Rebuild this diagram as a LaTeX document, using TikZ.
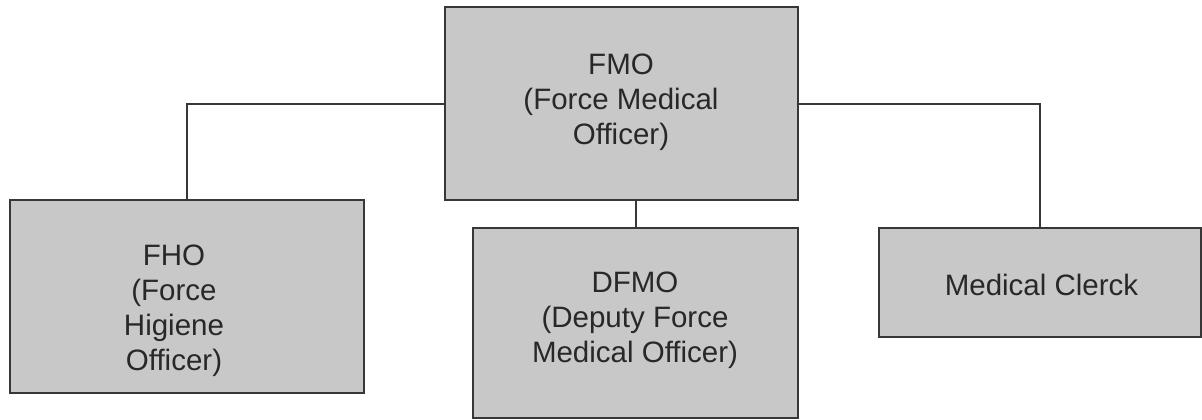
\documentclass[tikz,border=0pt]{standalone}
\usepackage{fontspec}
\setmainfont{Liberation Sans}
\definecolor{boxfill}{RGB}{200,200,200}
\definecolor{edge}{RGB}{55,55,55}
\definecolor{txt}{RGB}{40,40,40}
\begin{document}
\begin{tikzpicture}[x=1pt,y=-1pt,
  orgbox/.style={draw=edge,fill=boxfill,line width=2pt,rectangle,inner sep=0pt,outer sep=0pt},
  label/.style={inner sep=0pt,outer sep=0pt,align=center,text=txt,font=\fontsize{29.5}{35}\selectfont},
  conn/.style={draw=edge,line width=2pt}]
\useasboundingbox[fill=white] (0,0) rectangle (1202,420);
\node[orgbox,minimum width=353pt,minimum height=193pt] (fmo) at (621.5,103.5) {};
\node[orgbox,minimum width=354pt,minimum height=193pt] (fho) at (187,296.5) {};
\node[orgbox,minimum width=325pt,minimum height=190pt] (dfmo) at (635.5,323) {};
\node[orgbox,minimum width=322pt,minimum height=109pt] (clerk) at (1040,282.5) {};
\node[label,anchor=north] (tfmo) at (621,53.5) {FMO\\(Force Medical\\Officer)};
\node[label,anchor=north] (tfho) at (174,245) {FHO\\(Force\\Higiene\\Officer)};
\node[label,anchor=north] (tdfmo) at (635,271.5) {DFMO\\(Deputy Force\\Medical Officer)};
\node[label,anchor=base] (tclerk) at (1041.5,295) {Medical Clerck};
\draw[conn] (fmo.west) -| (fho.north);
\draw[conn] (fmo.east) -| (clerk.north);
\draw[conn] (dfmo.north |- fmo.south) -- (dfmo.north);
\end{tikzpicture}
\end{document}
